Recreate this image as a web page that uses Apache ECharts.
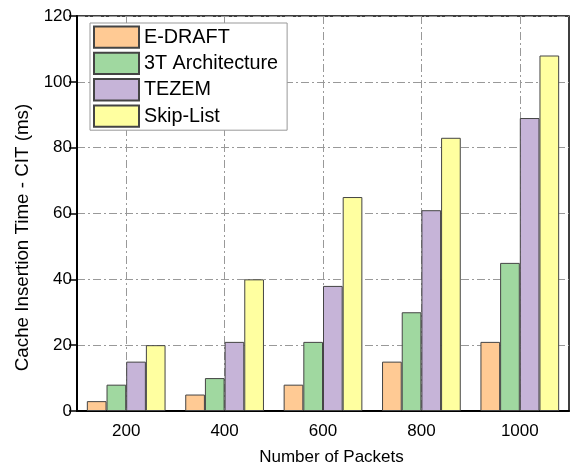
<!DOCTYPE html>
<html>
<head>
<meta charset="utf-8">
<script src="https://cdn.jsdelivr.net/npm/echarts@6/dist/echarts.min.js"></script>
<style>html,body{margin:0;padding:0;background:#fff;}#c{width:572px;height:471px;}</style>
</head>
<body>
<div id="c"></div>
<script>
var categories = ['200', '400', '600', '800', '1000'];
var seriesNames = ['E-DRAFT', '3T Architecture', 'TEZEM', 'Skip-List'];
var edraft = [3, 5, 8, 15, 21];
var arch3t = [8, 10, 21, 30, 45];
var tezem = [15, 21, 38, 61, 89];
var skiplist = [20, 40, 65, 83, 108];
var colors = ['#FFCA94', '#A0D8A0', '#C6B4D8', '#FFFFA0'];
var yTicks = [0, 20, 40, 60, 80, 100, 120];

var gridData = [''];
categories.forEach(function (c) { gridData.push(c); gridData.push(''); });

var font = 'Liberation Sans, Arial, sans-serif';
var dash = [8, 3, 2, 3];
var values = [edraft, arch3t, tezem, skiplist];

var chart = echarts.init(document.getElementById('c'));
chart.setOption({
  animation: false,
  textStyle: { fontFamily: font },
  grid: { left: 77, right: 3, top: 16, bottom: 58, show: true, borderColor: '#000', borderWidth: 1.5, backgroundColor: 'transparent' },
  legend: {
    orient: 'vertical', left: 90, top: 23, icon: 'rect',
    itemWidth: 45, itemHeight: 21.3, itemGap: 3,
    padding: [2.5, 9, 2.5, 3],
    borderColor: '#999', borderWidth: 1, backgroundColor: '#fff',
    textStyle: { fontSize: 19.8, lineHeight: 20, color: '#000', fontFamily: font },
    data: seriesNames
  },
  xAxis: [{
    type: 'category', data: categories,
    name: 'Number of Packets', nameLocation: 'middle', nameGap: 38,
    nameTextStyle: { fontSize: 17, color: '#000', padding: [0, 0, 0, 17] },
    axisLine: { lineStyle: { color: '#000', width: 2 } },
    axisTick: { alignWithLabel: true, length: 7, lineStyle: { color: '#000', width: 1.5 } },
    axisLabel: { fontSize: 17, color: '#000', margin: 12 },
    splitLine: { show: false }
  }, {
    type: 'category', data: gridData, boundaryGap: false, position: 'bottom',
    axisLine: { show: false }, axisTick: { show: false }, axisLabel: { show: false },
    splitLine: { show: true, interval: function (i) { return i % 2 === 1; }, lineStyle: { color: '#999', type: dash, width: 1 } }
  }],
  yAxis: {
    type: 'value', min: 0, max: 120, interval: 20,
    name: 'Cache Insertion Time - CIT (ms)', nameLocation: 'middle', nameGap: 44,
    nameTextStyle: { fontSize: 18.8, color: '#000', padding: [0, 48, 0, 0] },
    axisLine: { show: true, lineStyle: { color: '#000', width: 2 } },
    axisTick: { show: true, length: 8, lineStyle: { color: '#000', width: 1.5 } },
    axisLabel: { fontSize: 17, color: '#000', margin: 5, formatter: function (v) { return yTicks.indexOf(v) >= 0 ? String(v) : ''; } },
    splitLine: { show: true, lineStyle: { color: '#999', type: dash, width: 1 } }
  },
  series: seriesNames.map(function (n, i) {
    return {
      name: n, type: 'bar', data: values[i], xAxisIndex: 0,
      barGap: '0%', barCategoryGap: '20%',
      itemStyle: { color: colors[i], borderColor: '#444', borderWidth: 1 }
    };
  })
});
</script>
</body>
</html>
